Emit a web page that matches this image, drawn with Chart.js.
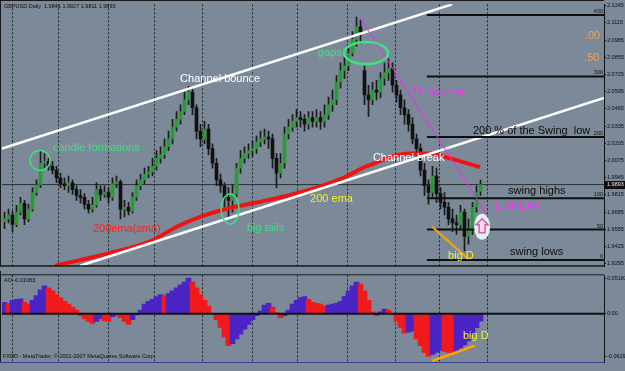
<!DOCTYPE html>
<html>
<head>
<meta charset="utf-8">
<script src="https://cdn.jsdelivr.net/npm/chart.js@4.4.1/dist/chart.umd.min.js"></script>
<style>
  html, body { margin: 0; padding: 0; background: #7b8999; }
  #wrap { position: relative; width: 625px; height: 371px; overflow: hidden; background: #7b8999; }
  #price-canvas { position: absolute; left: 0; top: 0; }
  #ao-canvas { position: absolute; left: 0; top: 271px; }
</style>
</head>
<body>
<div id="wrap">
  <canvas id="price-canvas" width="625" height="271"></canvas>
  <canvas id="ao-canvas" width="625" height="100"></canvas>
</div>
<script>
// GBPUSD daily (one entry per drawn bar)
const opens = [
  1.9612, 1.9634, 1.9663, 1.9590, 1.9685, 1.9752, 1.9634, 1.9708, 1.9833, 1.9892,
  2.0054, 2.0069, 2.0032, 2.0002, 1.9943, 1.9899, 1.9884, 1.9907, 1.9855, 1.9811,
  1.9796, 1.9744, 1.9708, 1.9737, 1.9855, 1.9818, 1.9833, 1.9796, 1.9899, 1.9914,
  1.9708, 1.9722, 1.9693, 1.9796, 1.9884, 1.9929, 1.9973, 1.9988, 2.0032, 2.0091,
  2.0120, 2.0179, 2.0238, 2.0327, 2.0386, 2.0445, 2.0533, 2.0592, 2.0474, 2.0297,
  2.0238, 2.0312, 2.0165, 2.0054, 1.9929, 1.9884, 1.9796, 1.9774, 1.9825, 2.0017,
  2.0091, 2.0128, 2.0150, 2.0165, 2.0216, 2.0238, 2.0253, 2.0238, 2.0091, 1.9980,
  2.0054, 2.0275, 2.0327, 2.0371, 2.0400, 2.0386, 2.0349, 2.0400, 2.0371, 2.0400,
  2.0371, 2.0422, 2.0496, 2.0533, 2.0666, 2.0754, 2.0791, 2.0887, 2.0990, 2.1086,
  2.0754, 2.0570, 2.0533, 2.0607, 2.0592, 2.0695, 2.0739, 2.0769, 2.0644, 2.0570,
  2.0474, 2.0422, 2.0349, 2.0238, 2.0165, 2.0002, 1.9884, 1.9833, 1.9958, 1.9825,
  1.9759, 1.9722, 1.9634, 1.9604, 1.9590, 1.9685, 1.9501, 1.9560, 1.9722, 1.9841
]
const highs = [
  1.9685, 1.9708, 1.9693, 1.9737, 1.9796, 1.9774, 1.9744, 1.9870, 1.9929, 2.0150,
  2.0128, 2.0091, 2.0069, 2.0032, 1.9980, 1.9943, 1.9958, 1.9929, 1.9884, 1.9855,
  1.9825, 1.9774, 1.9796, 1.9907, 1.9884, 1.9884, 1.9870, 1.9943, 1.9958, 1.9929,
  1.9774, 1.9759, 1.9833, 1.9929, 1.9973, 2.0017, 2.0032, 2.0091, 2.0150, 2.0179,
  2.0238, 2.0297, 2.0386, 2.0445, 2.0496, 2.0592, 2.0636, 2.0621, 2.0496, 2.0349,
  2.0371, 2.0349, 2.0201, 2.0091, 1.9973, 1.9907, 1.9870, 1.9892, 2.0054, 2.0150,
  2.0179, 2.0201, 2.0223, 2.0260, 2.0297, 2.0312, 2.0297, 2.0275, 2.0128, 2.0128,
  2.0327, 2.0386, 2.0422, 2.0459, 2.0445, 2.0422, 2.0445, 2.0445, 2.0459, 2.0445,
  2.0496, 2.0555, 2.0607, 2.0717, 2.0813, 2.0865, 2.0938, 2.1049, 2.1159, 2.1137,
  2.0791, 2.0644, 2.0666, 2.0680, 2.0739, 2.0813, 2.0843, 2.0813, 2.0680, 2.0607,
  2.0533, 2.0459, 2.0400, 2.0275, 2.0201, 2.0054, 1.9929, 2.0032, 2.0017, 1.9870,
  1.9833, 1.9759, 1.9708, 1.9663, 1.9737, 1.9708, 1.9634, 1.9759, 1.9884, 1.9927
]
const lows = [
  1.9560, 1.9604, 1.9538, 1.9575, 1.9663, 1.9590, 1.9612, 1.9693, 1.9811, 1.9870,
  2.0017, 2.0002, 1.9973, 1.9907, 1.9870, 1.9855, 1.9833, 1.9818, 1.9774, 1.9752,
  1.9708, 1.9678, 1.9685, 1.9722, 1.9774, 1.9796, 1.9752, 1.9774, 1.9870, 1.9634,
  1.9649, 1.9663, 1.9678, 1.9774, 1.9855, 1.9899, 1.9943, 1.9958, 2.0002, 2.0054,
  2.0091, 2.0150, 2.0201, 2.0297, 2.0349, 2.0422, 2.0496, 2.0422, 2.0238, 2.0179,
  2.0201, 2.0120, 2.0017, 1.9884, 1.9833, 1.9722, 1.9649, 1.9685, 1.9796, 1.9980,
  2.0054, 2.0091, 2.0106, 2.0128, 2.0179, 2.0201, 2.0165, 2.0017, 1.9870, 1.9943,
  2.0017, 2.0238, 2.0297, 2.0327, 2.0327, 2.0297, 2.0312, 2.0327, 2.0327, 2.0312,
  2.0327, 2.0386, 2.0445, 2.0496, 2.0621, 2.0695, 2.0754, 2.0865, 2.0938, 2.0960,
  2.0496, 2.0408, 2.0496, 2.0533, 2.0548, 2.0644, 2.0680, 2.0592, 2.0518, 2.0422,
  2.0349, 2.0297, 2.0201, 2.0106, 1.9958, 1.9811, 1.9744, 1.9796, 1.9759, 1.9708,
  1.9663, 1.9590, 1.9538, 1.9516, 1.9560, 1.9391, 1.9442, 1.9516, 1.9685, 1.9811
]
const closes = [
  1.9634, 1.9663, 1.9590, 1.9685, 1.9752, 1.9634, 1.9708, 1.9833, 1.9892, 2.0054,
  2.0069, 2.0032, 2.0002, 1.9943, 1.9899, 1.9884, 1.9907, 1.9855, 1.9811, 1.9796,
  1.9744, 1.9708, 1.9737, 1.9855, 1.9818, 1.9833, 1.9796, 1.9899, 1.9914, 1.9708,
  1.9722, 1.9693, 1.9796, 1.9884, 1.9929, 1.9973, 1.9988, 2.0032, 2.0091, 2.0120,
  2.0179, 2.0238, 2.0327, 2.0386, 2.0445, 2.0533, 2.0592, 2.0474, 2.0297, 2.0238,
  2.0312, 2.0165, 2.0054, 1.9929, 1.9884, 1.9796, 1.9774, 1.9825, 2.0017, 2.0091,
  2.0128, 2.0150, 2.0165, 2.0216, 2.0238, 2.0253, 2.0238, 2.0091, 1.9980, 2.0054,
  2.0275, 2.0327, 2.0371, 2.0400, 2.0386, 2.0349, 2.0400, 2.0371, 2.0400, 2.0371,
  2.0422, 2.0496, 2.0533, 2.0666, 2.0754, 2.0791, 2.0887, 2.0990, 2.1086, 2.1049,
  2.0570, 2.0533, 2.0607, 2.0592, 2.0695, 2.0739, 2.0769, 2.0644, 2.0570, 2.0474,
  2.0422, 2.0349, 2.0238, 2.0165, 2.0002, 1.9884, 1.9833, 1.9958, 1.9825, 1.9759,
  1.9722, 1.9634, 1.9604, 1.9590, 1.9685, 1.9501, 1.9560, 1.9722, 1.9833, 1.9893
]
// Awesome Oscillator, one value per bar
const ao_values = [
  0.0168, 0.0154, 0.0196, 0.0210, 0.0217, 0.0168, 0.0140, 0.0196, 0.0266, 0.0350,
  0.0406, 0.0378, 0.0336, 0.0280, 0.0238, 0.0182, 0.0140, 0.0098, 0.0056, -0.0028,
  -0.0070, -0.0112, -0.0140, -0.0112, -0.0070, -0.0098, -0.0112, -0.0042, -0.0014, -0.0056,
  -0.0112, -0.0154, -0.0084, -0.0014, 0.0056, 0.0140, 0.0182, 0.0210, 0.0252, 0.0280,
  0.0266, 0.0294, 0.0336, 0.0378, 0.0420, 0.0462, 0.0518, 0.0462, 0.0378, 0.0280,
  0.0196, 0.0112, 0.0004, -0.0084, -0.0196, -0.0336, -0.0462, -0.0434, -0.0364, -0.0294,
  -0.0224, -0.0154, -0.0084, -0.0028, 0.0042, 0.0126, 0.0154, 0.0098, 0.0014, -0.0056,
  -0.0028, 0.0056, 0.0140, 0.0196, 0.0238, 0.0252, 0.0210, 0.0168, 0.0154, 0.0140,
  0.0112, 0.0126, 0.0140, 0.0154, 0.0182, 0.0252, 0.0336, 0.0406, 0.0462, 0.0434,
  0.0336, 0.0196, 0.0028, -0.0028, 0.0028, 0.0070, 0.0056, -0.0005, -0.0112, -0.0196,
  -0.0280, -0.0266, -0.0252, -0.0364, -0.0462, -0.0560, -0.0619, -0.0590, -0.0560, -0.0532,
  -0.0546, -0.0560, -0.0574, -0.0540, -0.0500, -0.0450, -0.0392, -0.0300, -0.0200, -0.01083
]

// axes
const price_ticks = [1.9295, 1.9425, 1.9555, 1.9685, 1.9815, 1.9945, 2.0075, 2.0205,
  2.0335, 2.0465, 2.0595, 2.0725, 2.0855, 2.0985, 2.1115, 2.1245]
const ao_ticks = [0.05183, 0, -0.06191]
const ao_tick_labels = ['0.05183', '0.00', '-0.06191']
const date_labels = ['26 Mar 2007', '17 Apr 2007', '9 May 2007', '31 May 2007', '22 Jun 2007',
  '16 Jul 2007', '7 Aug 2007', '29 Aug 2007', '20 Sep 2007', '12 Oct 2007', '5 Nov 2007',
  '27 Nov 2007', '19 Dec 2007', '14 Jan 2008']
const date_idx = [-0.6, 8.1, 16.6, 25.4, 34.1, 42.9, 51.4, 60.1, 68.9, 77.6, 86.4, 95.1, 103.9, 112.9]
const grid_idx = [1.9, 13.4, 25.9, 37.4, 49.4, 61.9, 73.1, 85.6, 97.6, 108.6, 120.6]

// drawn objects (bar index, price)
const ema_idx = [12.6, 26.4, 36.4, 43.1, 48.9, 57.1, 65.6, 73.9, 84.6, 90.6, 101.4, 106.4, 111.4, 118.9]
const ema_price = [1.9280, 1.9376, 1.9464, 1.9575, 1.9649, 1.9722, 1.9774, 1.9833, 1.9943, 2.0032, 2.0128, 2.0128, 2.0091, 2.0025]
const channel_top = [[-0.6, 2.0165], [111.9, 2.1255]]
const channel_bottom = [[18.9, 1.9280], [149.9, 2.0548]]
const tl_line = [[88.9, 2.1152], [120.6, 1.9671]]
const big_d_line = [[106.9, 1.9575], [115.9, 1.9332]]
const fib_prices = [2.1174, 2.0710, 2.0253, 1.9789, 1.9553, 1.9324]
const fib_labels = ['400', '300', '200', '100', '50', '0']
const fib_from = 105.6
const ao_big_d_line = [[106.9, -0.0686], [117.6, -0.0462]]

const X_MIN = -0.625
const X_MAX = 149.875
const last = closes.length - 1

const c_green = '#3fe07f'
const c_magenta = '#ff2cff'
const c_yellow = '#f4f41c'
const c_dark = '#0c0c0c'
const font_family = '"Liberation Sans", Arial, sans-serif'

const seg = (pts) => pts.map(p => ({x: p[0], y: p[1]}))
const flat_line = (data, color, width, order) => ({
    type: 'line', data, borderColor: color, borderWidth: width, pointRadius: 0,
    fill: false, tension: 0, order
})

// notes drawn on the price panel
const price_notes = [
    {text: 'Channel bounce', x: 43.9, y: 2.0688, color: '#ffffff'},
    {text: 'gaps', x: 78.4, y: 2.0887, color: c_green},
    {text: 'TL bounce', x: 101.9, y: 2.0585, color: c_magenta},
    {text: '.00', x: 145.1, y: 2.1019, color: '#f4a257'},
    {text: '.50', x: 144.9, y: 2.0850, color: '#f4a257'},
    {text: '200 % of the Swing  low', x: 117.1, y: 2.0297, color: c_dark},
    {text: 'Channel break', x: 92.1, y: 2.0098, color: '#ffffff'},
    {text: 'candle formations', x: 12.1, y: 2.0172, color: c_green},
    {text: '200ema(sma)', x: 22.1, y: 1.9560, color: '#ff1e1e'},
    {text: '200 ema', x: 76.4, y: 1.9781, color: c_yellow},
    {text: 'big tails', x: 60.6, y: 1.9568, color: c_green},
    {text: 'swing highs', x: 125.9, y: 1.9848, color: c_dark},
    {text: 'TL BREAK', x: 120.9, y: 1.9730, color: c_magenta},
    {text: 'swing lows', x: 126.4, y: 1.9383, color: c_dark},
    {text: 'big D', x: 110.9, y: 1.9354, color: c_yellow},
]
const price_rings = [
    {x: 8.9, y: 2.0076, rx: 10, ry: 10, width: 1.5},
    {x: 56.4, y: 1.9708, rx: 9, ry: 15, width: 1.5},
    {x: 90.4, y: 2.0887, rx: 22, ry: 11, width: 2.5},
]
const arrow_spot = {x: 119.4, y: 1.9575}
const ao_notes = [
    {text: 'big D', x: 114.6, y: -0.0322, color: c_yellow},
]

const small_text = (ctx, text, px, py, align = 'left', color = c_dark) => {
    ctx.font = `5.5px ${font_family}`
    ctx.fillStyle = color
    ctx.textAlign = align
    ctx.textBaseline = 'middle'
    ctx.fillText(text, px, py)
}

// one plugin per panel: week grid below the marks, notes and rings above
const make_notes_plugin = (notes, rings, after) => ({
    id: 'notes',
    beforeDatasetsDraw(chart) {
        const {ctx, chartArea: a, scales: {x}} = chart
        ctx.save()
        ctx.strokeStyle = '#1b2620'
        ctx.lineWidth = 1
        ctx.setLineDash([2, 2])
        grid_idx.forEach(g => {
            const px = Math.round(x.getPixelForValue(g)) + 0.5
            ctx.beginPath()
            ctx.moveTo(px, a.top)
            ctx.lineTo(px, a.bottom)
            ctx.stroke()
        })
        ctx.restore()
    },
    afterDatasetsDraw(chart) {
        const {ctx, scales: {x, y}} = chart
        ctx.save()
        rings.forEach(o => {
            ctx.beginPath()
            ctx.ellipse(x.getPixelForValue(o.x), y.getPixelForValue(o.y), o.rx, o.ry, 0, 0, Math.PI * 2)
            ctx.strokeStyle = c_green
            ctx.lineWidth = o.width
            ctx.stroke()
        })
        if (after) after(chart)
        ctx.textBaseline = 'middle'
        ctx.textAlign = 'left'
        notes.forEach(n => {
            ctx.font = `11px ${font_family}`
            ctx.fillStyle = n.color
            ctx.fillText(n.text, x.getPixelForValue(n.x), y.getPixelForValue(n.y))
        })
        ctx.restore()
    }
})

// price panel extras: arrow, fib labels, bid box, title, frame
const price_after = (chart) => {
    const {ctx, chartArea: a, scales: {x, y}} = chart
    const cx = x.getPixelForValue(arrow_spot.x)
    const cy = y.getPixelForValue(arrow_spot.y)
    ctx.beginPath()
    ctx.ellipse(cx, cy, 8, 13, 0, 0, Math.PI * 2)
    ctx.fillStyle = '#e6eef6'
    ctx.fill()
    ctx.beginPath()
    ctx.moveTo(cx, cy - 8)
    ctx.lineTo(cx + 6, cy - 2)
    ctx.lineTo(cx + 3, cy - 2)
    ctx.lineTo(cx + 3, cy + 6)
    ctx.lineTo(cx - 3, cy + 6)
    ctx.lineTo(cx - 3, cy - 2)
    ctx.lineTo(cx - 6, cy - 2)
    ctx.closePath()
    ctx.fillStyle = '#f6dcef'
    ctx.fill()
    ctx.strokeStyle = '#d65aa6'
    ctx.lineWidth = 1.5
    ctx.stroke()

    fib_prices.forEach((p, i) => {
        small_text(ctx, fib_labels[i], a.right - 1, y.getPixelForValue(p) - 3.5, 'right')
    })

    // bid price box on the axis
    const by = y.getPixelForValue(closes[last])
    ctx.fillStyle = '#101010'
    ctx.fillRect(a.right + 1, Math.round(by) - 4, 20, 8)
    small_text(ctx, closes[last].toFixed(4), a.right + 3, by, 'left', '#e4e4e4')

    small_text(ctx, `GBPUSD,Daily  ${opens[last].toFixed(4)} ${highs[last].toFixed(4)} ${lows[last].toFixed(4)} ${closes[last].toFixed(4)}`, 4, 6)

    ctx.fillStyle = '#1a1a1a'
    ctx.fillRect(0, 0, a.right, 1)
    ctx.fillRect(0, 0, 1, a.bottom)
    ctx.fillRect(0, a.bottom - 1.5, a.right, 1.5)
}

const ao_after = (chart) => {
    const {ctx, chartArea: a} = chart
    small_text(ctx, `AO ${ao_values[last].toFixed(5)}`, 4, a.top + 5)
    small_text(ctx, 'FXDD - MetaTrader, \u00a9 2001-2007 MetaQuotes Software Corp.', 3, a.bottom - 6)
    ctx.fillStyle = '#1a1a1a'
    ctx.fillRect(0, 0, 1, a.bottom)
    ctx.fillRect(0, a.top - 1, a.right, 1)
    ctx.fillStyle = '#3b3f9a'
    ctx.fillRect(0, a.bottom, a.right, 1)
}

// candles
const candle_wicks = closes.map((c, i) => ({x: i, y: [lows[i], highs[i]]}))
const candle_bodies = closes.map((c, i) => ({x: i, y: [opens[i], c]}))
const body_colors = closes.map((c, i) => c >= opens[i] ? '#2a9c34' : '#111111')

const right_axis = (min, max, ticks, label_of) => ({
    position: 'right',
    min, max,
    afterFit: (scale) => { scale.width = 21 },
    afterBuildTicks: (scale) => { scale.ticks = ticks.map(v => ({value: v})) },
    ticks: {
        color: c_dark,
        font: {size: 5.5, family: font_family},
        padding: 1,
        autoSkip: false,
        callback: label_of,
    },
    grid: {drawOnChartArea: false, drawTicks: true, tickLength: 2, color: '#111'},
    border: {display: true, color: '#111', width: 1},
})

new Chart(document.getElementById('price-canvas'), {
    type: 'bar',
    data: {
        datasets: [
            flat_line(seg([[X_MIN, closes[last]], [X_MAX, closes[last]]]), '#2b2f33', 1, 20),
            {
                data: candle_wicks, backgroundColor: '#1a1a1a', barThickness: 1,
                grouped: false, borderSkipped: false, order: 11,
            },
            {
                data: candle_bodies, backgroundColor: body_colors,
                borderWidth: 0, barThickness: 3, minBarLength: 1,
                grouped: false, borderSkipped: false, order: 10,
            },
            {
                type: 'line', data: ema_idx.map((v, i) => ({x: v, y: ema_price[i]})),
                borderColor: '#ee1414', borderWidth: 4, pointRadius: 0, tension: 0.4,
                cubicInterpolationMode: 'monotone', order: 5,
            },
            flat_line(seg(channel_top), '#ffffff', 2.5, 4),
            flat_line(seg(channel_bottom), '#ffffff', 2.5, 4),
            ...fib_prices.map(p => flat_line(seg([[fib_from, p], [X_MAX, p]]), '#0e0e0e', 2, 3)),
            flat_line(seg(tl_line), '#ff20ff', 1, 2),
            flat_line(seg(big_d_line), '#ffa500', 2, 2),
        ]
    },
    options: {
        responsive: false,
        animation: false,
        events: [],
        layout: {padding: {left: 2, top: 2, right: 0, bottom: 0}},
        scales: {
            x: {type: 'linear', min: X_MIN, max: X_MAX, offset: false, display: false},
            y: right_axis(1.92727, 2.12553, price_ticks, (v) => v.toFixed(4)),
        },
        plugins: {
            legend: {display: false},
            tooltip: {enabled: false},
        },
    },
    plugins: [make_notes_plugin(price_notes, price_rings, price_after)],
})

const ao_colors = ao_values.map((v, i) => (i === 0 || v > ao_values[i - 1]) ? '#4a24c4' : '#f01a1a')

new Chart(document.getElementById('ao-canvas'), {
    type: 'bar',
    data: {
        datasets: [
            {
                data: ao_values.map((v, i) => ({x: i, y: v})), backgroundColor: ao_colors,
                barThickness: 5, grouped: false, borderSkipped: false, order: 10,
            },
            flat_line(seg([[X_MIN, 0], [X_MAX, 0]]), '#111111', 2, 5),
            flat_line(seg(ao_big_d_line), '#ffa500', 2.5, 2),
        ]
    },
    options: {
        responsive: false,
        animation: false,
        events: [],
        layout: {padding: {left: 2, top: 1, right: 0, bottom: 0}},
        scales: {
            x: {
                type: 'linear', min: X_MIN, max: X_MAX, offset: false, position: 'bottom',
                afterFit: (scale) => { scale.height = 9 },
                afterBuildTicks: (scale) => { scale.ticks = date_idx.map(v => ({value: v})) },
                ticks: {
                    color: c_dark, font: {size: 5.2, family: font_family}, padding: 1,
                    align: 'start', autoSkip: false, maxRotation: 0,
                    callback: (v, i) => date_labels[i],
                },
                grid: {display: false},
                border: {display: false},
            },
            y: right_axis(-0.0700, 0.0560, ao_ticks, (v, i) => ao_tick_labels[i]),
        },
        plugins: {
            legend: {display: false},
            tooltip: {enabled: false},
        },
    },
    plugins: [make_notes_plugin(ao_notes, [], ao_after)],
})
</script>
</body>
</html>
